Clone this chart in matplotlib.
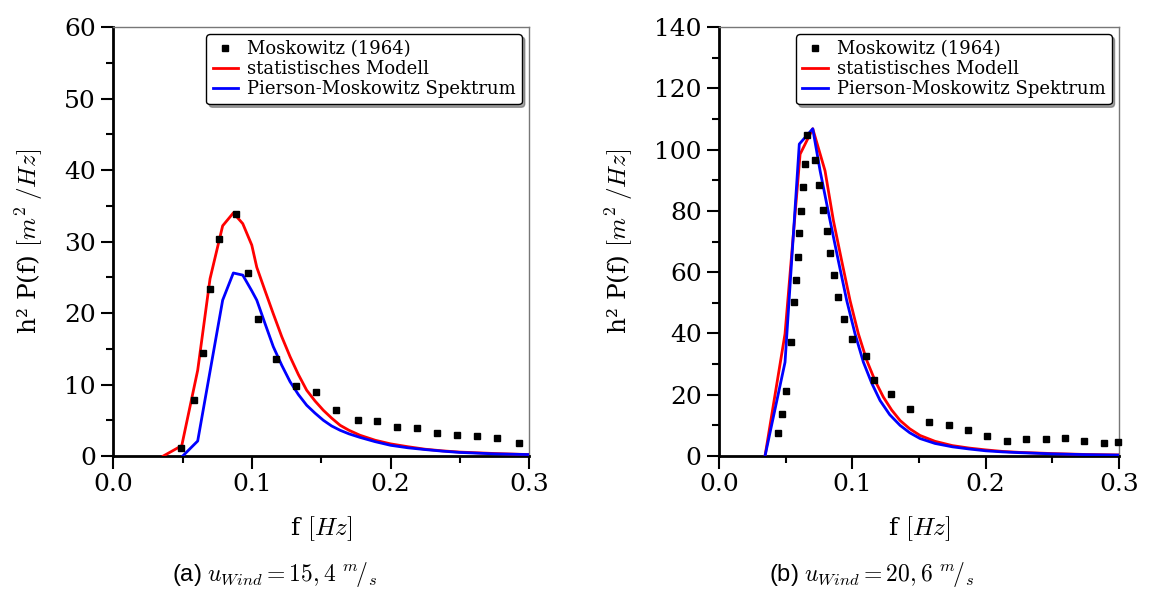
import matplotlib
matplotlib.use("Agg")
import matplotlib.pyplot as plt
from matplotlib.ticker import MultipleLocator

plt.rcParams['font.family'] = 'DejaVu Serif'
plt.rcParams['mathtext.fontset'] = 'cm'

# (a) u_wind = 15,4 m/s
a_meas_f = [0.0486, 0.0584, 0.0645, 0.0700, 0.0765, 0.0885, 0.0974, 0.1044, 0.1174, 0.1320,
            0.1465, 0.1609, 0.1768, 0.1900, 0.2045, 0.2189, 0.2333, 0.2480, 0.2626, 0.2768, 0.2929]
a_meas_p = [1.08, 7.8, 14.4, 23.4, 30.3, 33.8, 25.6, 19.1, 13.6, 9.8,
            8.9, 6.4, 5.1, 4.9, 4.0, 3.9, 3.2, 2.9, 2.75, 2.56, 1.8]
a_stat_f = [0.0361, 0.0494, 0.0609, 0.0698, 0.0789, 0.0866, 0.0934, 0.0999, 0.1035, 0.1095,
            0.1154, 0.1215, 0.1275, 0.1335, 0.1395, 0.1455, 0.1515, 0.1575, 0.1636, 0.170,
            0.178, 0.189, 0.2, 0.2125, 0.225, 0.2375, 0.25, 0.275, 0.3]
a_stat_p = [0.0, 1.45, 12.0, 24.8, 32.2, 34.0, 32.5, 29.5, 26.4, 23.1,
            19.9, 16.7, 13.9, 11.4, 9.2, 7.7, 6.4, 5.3, 4.3, 3.6,
            2.9, 2.2, 1.7, 1.3, 0.95, 0.72, 0.55, 0.35, 0.2]
a_pm_f = [0.0501, 0.0609, 0.0789, 0.0866, 0.0934, 0.0999, 0.1035, 0.1095, 0.1154, 0.1215,
          0.1275, 0.1335, 0.1395, 0.1455, 0.1515, 0.1575, 0.1636, 0.170, 0.178, 0.189,
          0.2, 0.2125, 0.225, 0.2375, 0.25, 0.275, 0.3]
a_pm_p = [0.0, 2.1, 21.8, 25.6, 25.3, 23.1, 21.8, 18.5, 15.3, 12.7,
          10.4, 8.6, 7.1, 6.0, 5.0, 4.2, 3.6, 3.1, 2.6, 2.0,
          1.5, 1.15, 0.9, 0.68, 0.5, 0.3, 0.2]

# (b) u_wind = 20,6 m/s
b_meas_f = [0.0445, 0.0473, 0.0500, 0.0538, 0.0565, 0.0578, 0.0590, 0.0602, 0.0615, 0.0630,
            0.0643, 0.0662, 0.0722, 0.0750, 0.0780, 0.0808, 0.0833, 0.0863, 0.0890, 0.0935,
            0.0995, 0.1105, 0.1163, 0.1288, 0.1433, 0.1578, 0.1723, 0.1868, 0.2013, 0.2160,
            0.2305, 0.2451, 0.2598, 0.2740, 0.2886, 0.2991]
b_meas_p = [7.5, 13.8, 21.2, 37.1, 50.1, 57.6, 65.1, 72.8, 80.0, 87.8,
            95.3, 104.7, 96.5, 88.3, 80.4, 73.5, 66.4, 59.1, 51.8, 44.8,
            38.3, 32.7, 24.9, 20.1, 15.2, 11.1, 10.1, 8.4, 6.4, 5.0,
            5.7, 5.4, 5.9, 5.0, 4.1, 4.5]
b_stat_f = [0.0345, 0.0495, 0.0608, 0.0703, 0.0795, 0.0858, 0.0920, 0.0983, 0.1045, 0.1108,
            0.1170, 0.1233, 0.1295, 0.1358, 0.1430, 0.1508, 0.162, 0.175, 0.1875, 0.2,
            0.2125, 0.225, 0.25, 0.275, 0.3]
b_stat_p = [0.0, 39.9, 98.5, 106.8, 93.1, 76.8, 63.7, 50.7, 39.9, 31.2,
            24.6, 19.2, 15.0, 11.6, 8.9, 6.7, 4.8, 3.4, 2.6, 2.0,
            1.5, 1.2, 0.8, 0.5, 0.35]
b_pm_f = [0.0345, 0.0495, 0.0602, 0.0703, 0.0758, 0.0833, 0.0895, 0.0958, 0.1020, 0.1083,
          0.1145, 0.1208, 0.1280, 0.1358, 0.1430, 0.1508, 0.162, 0.175, 0.1875, 0.2,
          0.2125, 0.225, 0.25, 0.275, 0.3]
b_pm_p = [0.0, 30.6, 101.8, 106.8, 93.1, 76.8, 63.7, 50.7, 39.9, 30.6,
          23.8, 18.1, 13.5, 10.0, 7.6, 5.7, 4.1, 3.0, 2.3, 1.7,
          1.35, 1.1, 0.7, 0.45, 0.3]

fig = plt.figure(figsize=(11.51, 5.94), dpi=100)
ax1 = fig.add_axes([0.0984, 0.2323, 0.3614, 0.7222])
ax2 = fig.add_axes([0.6247, 0.2323, 0.3475, 0.7222])


def style_axis(ax, ymax, ymajor):
    ax.set_xlim(0, 0.3)
    ax.set_ylim(0, ymax)
    ax.xaxis.set_major_locator(MultipleLocator(0.1))
    ax.xaxis.set_minor_locator(MultipleLocator(0.05))
    ax.yaxis.set_major_locator(MultipleLocator(ymajor))
    ax.yaxis.set_minor_locator(MultipleLocator(ymajor / 2))
    ax.xaxis.set_major_formatter(matplotlib.ticker.FormatStrFormatter('%.1f'))
    ax.tick_params(which='both', direction='out', top=False, right=False, width=1.5, labelsize=18)
    ax.tick_params(which='major', length=9)
    ax.tick_params(which='minor', length=5)
    for side in ['left', 'bottom']:
        ax.spines[side].set_linewidth(2)
        ax.spines[side].set_color('black')
    for side in ['top', 'right']:
        ax.spines[side].set_linewidth(1)
        ax.spines[side].set_color('#777777')
    ax.set_xlabel(r'f $[Hz]$', fontsize=18, labelpad=13)
    ax.set_ylabel(r'h² P(f) $[m^2\;/Hz]$', fontsize=18, labelpad=14)


for ax, mf, mp, sf, sp, pf, pp, ymax, ymaj in [
        (ax1, a_meas_f, a_meas_p, a_stat_f, a_stat_p, a_pm_f, a_pm_p, 60, 10),
        (ax2, b_meas_f, b_meas_p, b_stat_f, b_stat_p, b_pm_f, b_pm_p, 140, 20)]:
    ax.plot(mf, mp, 's', color='black', markersize=5, label='Moskowitz (1964)', clip_on=False, zorder=4)
    ax.plot(sf, sp, '-', color='#ff0000', linewidth=2, label='statistisches Modell', zorder=3)
    ax.plot(pf, pp, '-', color='#0000ff', linewidth=2, label='Pierson-Moskowitz Spektrum', zorder=3)
    style_axis(ax, ymax, ymaj)
    leg = ax.legend(loc='upper right', fontsize=13, shadow=True, fancybox=True, numpoints=1,
                    handlelength=1.4, handletextpad=0.5, borderpad=0.35, labelspacing=0.1,
                    borderaxespad=0.4, framealpha=1, edgecolor='black')
    leg.get_frame().set_linewidth(1)

fig.text(0.239, 0.022, r'(a) $u_{Wind} = 15,4\ {}^{m}\!/{}_{s}$', ha='center', fontsize=17,
         family='Liberation Sans')
fig.text(0.757, 0.022, r'(b) $u_{Wind} = 20,6\ {}^{m}\!/{}_{s}$', ha='center', fontsize=17,
         family='Liberation Sans')

fig.savefig('out.png', dpi=100)
